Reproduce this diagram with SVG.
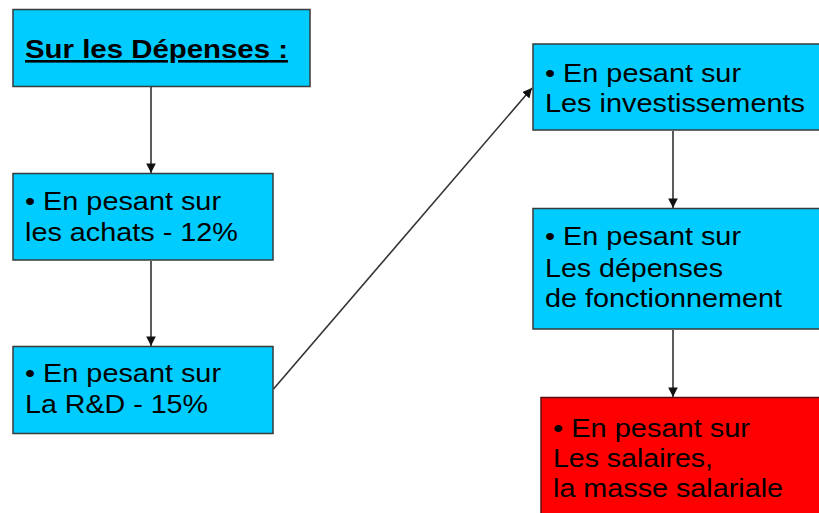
<svg xmlns="http://www.w3.org/2000/svg" width="819" height="513" viewBox="0 0 819 513">
<defs>
<style>
.box{fill:#00CCFF;stroke:#3a3a3a;stroke-width:1.5}
.red{fill:#FF0000;stroke:#5a1010;stroke-width:1.5}
.t{font-family:"Liberation Sans",Arial,sans-serif;font-size:26px;fill:#000}
.title{font-family:"Liberation Sans",Arial,sans-serif;font-size:26px;font-weight:bold;fill:#000;text-decoration:underline}
.c{stroke:#333;stroke-width:1.6;fill:none;marker-end:url(#ah)}
</style>
<marker id="ah" viewBox="0 0 10 10" refX="10" refY="5" markerWidth="6" markerHeight="6" orient="auto" markerUnits="strokeWidth">
<path d="M0,0 L10,5 L0,10 z" fill="#111"/>
</marker>
</defs>
<rect width="819" height="513" fill="#fff"/>
<g id="connectors">
<line class="c" x1="151" y1="87" x2="151" y2="173"/>
<line class="c" x1="151" y1="261" x2="151" y2="346"/>
<line class="c" x1="273.5" y1="389" x2="532" y2="88"/>
<line class="c" x1="673" y1="131" x2="673" y2="208"/>
<line class="c" x1="673" y1="330" x2="673" y2="397"/>
</g>
<g id="n1">
<rect class="box" x="13" y="9.5" width="297" height="77"/>
<text class="title" x="25" y="58" textLength="263" lengthAdjust="spacingAndGlyphs">Sur les Dépenses :</text>
</g>
<g id="n2">
<rect class="box" x="13" y="173.5" width="260" height="86.5"/>
<text class="t" x="25" y="210" textLength="196" lengthAdjust="spacingAndGlyphs">• En pesant sur</text>
<text class="t" x="25" y="241" textLength="213" lengthAdjust="spacingAndGlyphs">les achats - 12%</text>
</g>
<g id="n3">
<rect class="box" x="13" y="346.5" width="260" height="87"/>
<text class="t" x="25" y="382" textLength="196" lengthAdjust="spacingAndGlyphs">• En pesant sur</text>
<text class="t" x="25" y="413" textLength="183" lengthAdjust="spacingAndGlyphs">La R&amp;D - 15%</text>
</g>
<g id="n4">
<rect class="box" x="533" y="44" width="300" height="86"/>
<text class="t" x="545" y="82" textLength="196" lengthAdjust="spacingAndGlyphs">• En pesant sur</text>
<text class="t" x="545" y="112" textLength="260" lengthAdjust="spacingAndGlyphs">Les investissements</text>
</g>
<g id="n5">
<rect class="box" x="533" y="208.5" width="300" height="120.5"/>
<text class="t" x="545" y="245" textLength="196" lengthAdjust="spacingAndGlyphs">• En pesant sur</text>
<text class="t" x="545" y="277" textLength="178" lengthAdjust="spacingAndGlyphs">Les dépenses</text>
<text class="t" x="545" y="307" textLength="237" lengthAdjust="spacingAndGlyphs">de fonctionnement</text>
</g>
<g id="n6">
<rect class="red" x="541" y="397.5" width="300" height="130"/>
<text class="t" x="553" y="437" textLength="197" lengthAdjust="spacingAndGlyphs">• En pesant sur</text>
<text class="t" x="553" y="467" textLength="160" lengthAdjust="spacingAndGlyphs">Les salaires,</text>
<text class="t" x="553" y="497" textLength="230" lengthAdjust="spacingAndGlyphs">la masse salariale</text>
</g>
</svg>
